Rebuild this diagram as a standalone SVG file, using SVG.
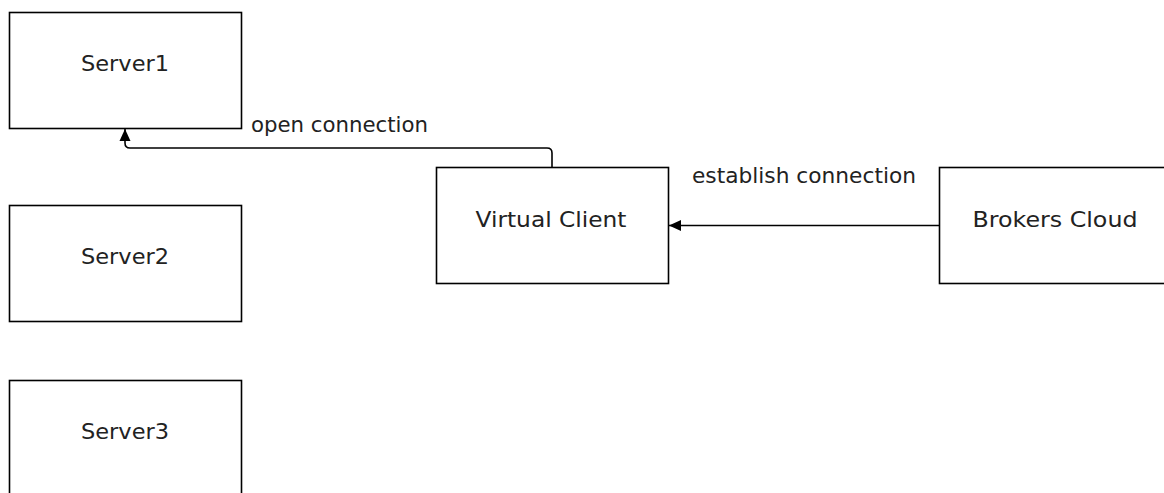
<svg xmlns="http://www.w3.org/2000/svg" width="1164" height="493" viewBox="0 0 1164 493">
<style>
.box{fill:#fff;stroke:#000;stroke-width:1.6}
.lbl{font-family:"DejaVu Sans",sans-serif;font-size:22px;fill:#222;text-anchor:middle}
.elbl{font-family:"DejaVu Sans",sans-serif;font-size:22px;fill:#222}
.edge{fill:none;stroke:#000;stroke-width:1.6}
</style>
<defs>
<marker id="arr" markerWidth="13" markerHeight="12" refX="12" refY="6" orient="auto" markerUnits="userSpaceOnUse">
<path d="M0,0.5 L12,6 L0,11.5 Z" fill="#000"/>
</marker>
</defs>
<rect width="1164" height="493" fill="#fff"/>
<g id="server1"><rect class="box" x="9.5" y="12.5" width="232" height="116"/><text class="lbl" x="125" y="71" textLength="88" lengthAdjust="spacingAndGlyphs">Server1</text></g>
<g id="server2"><rect class="box" x="9.5" y="205.5" width="232" height="116"/><text class="lbl" x="125" y="264" textLength="88" lengthAdjust="spacingAndGlyphs">Server2</text></g>
<g id="server3"><rect class="box" x="9.5" y="380.5" width="232" height="116"/><text class="lbl" x="125" y="439" textLength="88" lengthAdjust="spacingAndGlyphs">Server3</text></g>
<g id="virtual-client"><rect class="box" x="436.5" y="167.5" width="232" height="116"/><text class="lbl" x="551" y="227" textLength="151" lengthAdjust="spacingAndGlyphs">Virtual Client</text></g>
<g id="brokers-cloud"><rect class="box" x="939.5" y="167.5" width="232" height="116"/><text class="lbl" x="1055" y="227" textLength="165" lengthAdjust="spacingAndGlyphs">Brokers Cloud</text></g>
<g id="connectors">
<path class="edge" d="M552,167 L552,153 Q552,148 547,148 L130,148 Q125,148 125,143 L125,129" marker-end="url(#arr)"/>
<text class="elbl" x="251" y="132" textLength="177" lengthAdjust="spacingAndGlyphs">open connection</text>
<path class="edge" d="M939,225.5 L669,225.5" marker-end="url(#arr)"/>
<text class="elbl" x="692" y="183" textLength="224" lengthAdjust="spacingAndGlyphs">establish connection</text>
</g>
</svg>
